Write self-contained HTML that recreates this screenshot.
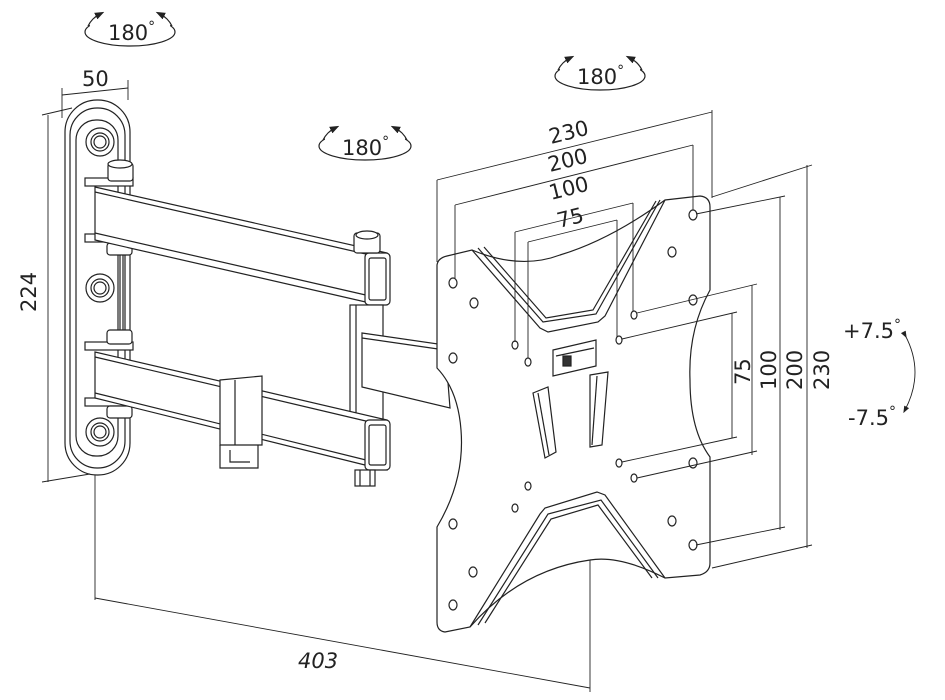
<!DOCTYPE html>
<html><head><meta charset="utf-8"><style>
html,body{margin:0;padding:0;background:#fff;}
svg{display:block;font-family:"DejaVu Sans","Liberation Sans",sans-serif;}
</style></head><body>
<svg width="945" height="700" viewBox="0 0 945 700" xmlns="http://www.w3.org/2000/svg">
<defs>
<marker id="ah" markerWidth="8" markerHeight="8" refX="4" refY="4" orient="auto"><path d="M0,1 L8,4 L0,7 Z" fill="#222"/></marker>
</defs>
<g fill="none" stroke="#222" stroke-width="1.2">
<!-- rotation labels -->
<g>
<ellipse cx="130" cy="32" rx="45" ry="14"/>
<ellipse cx="600" cy="76" rx="45" ry="14"/>
<ellipse cx="365" cy="146" rx="46" ry="14"/>
</g>
<g fill="#fff" stroke="none">
<rect x="90" y="14" width="80" height="14"/><rect x="560" y="58" width="80" height="14"/><rect x="325" y="128" width="80" height="14"/>
</g>
<path d="M88,26 Q92,18 100,14" marker-end="url(#ah)"/><path d="M172,26 Q168,18 160,14" marker-end="url(#ah)"/>
<path d="M558,70 Q562,62 570,58" marker-end="url(#ah)"/><path d="M642,70 Q638,62 630,58" marker-end="url(#ah)"/>
<path d="M323,140 Q327,132 335,128" marker-end="url(#ah)"/><path d="M407,140 Q403,132 395,128" marker-end="url(#ah)"/>

<!-- wall plate -->
<rect x="65" y="100" width="65" height="375" rx="32"/>
<rect x="70" y="108" width="55" height="360" rx="27"/>
<rect x="76" y="120" width="42" height="336" rx="20"/>
<circle cx="100" cy="142" r="14"/><circle cx="100" cy="142" r="9"/><circle cx="100" cy="142" r="6"/>
<circle cx="100" cy="288" r="14"/><circle cx="100" cy="288" r="9"/><circle cx="100" cy="288" r="6"/>
<circle cx="100" cy="432" r="14"/><circle cx="100" cy="432" r="9"/><circle cx="100" cy="432" r="6"/>
<!-- brackets -->
<rect x="85" y="178" width="48" height="8" fill="#fff"/>
<rect x="85" y="234" width="48" height="8" fill="#fff"/>
<rect x="85" y="342" width="48" height="8" fill="#fff"/>
<rect x="85" y="398" width="48" height="8" fill="#fff"/>
<line x1="120" y1="250" x2="120" y2="335"/><line x1="123" y1="250" x2="123" y2="335"/>
<!-- nuts -->
<rect x="108" y="163" width="25" height="18" rx="3" fill="#fff"/><ellipse cx="120" cy="164" rx="12" ry="4" fill="#fff"/>
<rect x="107" y="243" width="25" height="12" rx="3" fill="#fff"/>
<rect x="107" y="330" width="25" height="14" rx="3" fill="#fff"/>
<rect x="107" y="406" width="25" height="12" rx="3" fill="#fff"/>
<!-- upper arm -->
<path d="M95,187 L387,253 L387,303 L370,303 L95,240 Z" fill="#fff"/>
<line x1="95" y1="192" x2="370" y2="255"/><line x1="95" y1="233" x2="370" y2="296"/>
<rect x="365" y="253" width="25" height="52" rx="4" fill="#fff"/><rect x="369" y="258" width="17" height="42" rx="2"/>
<rect x="354" y="233" width="26" height="20" rx="3" fill="#fff"/><ellipse cx="367" cy="235" rx="11" ry="4" fill="#fff"/>
<!-- pivot column -->
<rect x="350" y="305" width="33" height="115" fill="#fff"/>
<line x1="356" y1="305" x2="356" y2="420"/>
<!-- forearm to plate -->
<path d="M362,333 L445,345 L450,408 L362,387 Z" fill="#fff"/>
<line x1="362" y1="338" x2="445" y2="350"/>
<!-- lower arm -->
<path d="M95,352 L387,420 L387,470 L373,467 L95,398 Z" fill="#fff"/>
<line x1="95" y1="357" x2="370" y2="422"/><line x1="95" y1="393" x2="370" y2="461"/>
<rect x="365" y="420" width="25" height="50" rx="4" fill="#fff"/><rect x="369" y="425" width="17" height="40" rx="2"/>
<rect x="355" y="470" width="20" height="16" fill="#fff"/><line x1="360" y1="470" x2="360" y2="486"/><line x1="370" y1="470" x2="370" y2="486"/>
<!-- clip -->
<path d="M220,380 L262,376 L262,445 L220,445 Z" fill="#fff"/>
<line x1="235" y1="380" x2="235" y2="445"/>
<path d="M220,445 L220,468 L258,468 L258,445"/><path d="M230,450 L230,462 L250,462"/>

<!-- VESA plate -->
<path d="M447,256 L472,250 Q520,270 560,255 Q610,240 665,200 L700,196 Q710,197 710,207 L710,290 Q688,330 690,380 Q690,430 710,457 L710,563 Q710,572 700,575 L665,578 Q620,555 590,560 Q520,570 470,627 L445,632 Q437,631 437,622 L437,527 Q465,480 461,430 Q458,390 437,368 L437,265 Q438,258 447,256 Z" fill="#fff"/>
<path d="M472,250 L540,328 L548,332 L598,322 L605,316 L665,200"/>
<path d="M478,248 L543,322 L596,314 L660,200"/>
<path d="M484,247 L546,318 L593,310 L656,201"/>
<path d="M665,578 L605,495 L597,492 L545,508 L540,514 L470,627"/>
<path d="M658,578 L601,500 L548,514 L478,625"/>
<path d="M652,578 L598,505 L551,519 L485,623"/>
<!-- slots -->
<path d="M533,393 L548,387 L556,452 L545,458 Z"/><line x1="538" y1="393" x2="549" y2="455"/>
<path d="M590,375 L608,372 L602,445 L590,447 Z"/><line x1="597" y1="376" x2="592" y2="445"/>
<!-- latch -->
<path d="M553,350 L596,340 L596,366 L553,376 Z"/><path d="M556,356 L594,348"/><rect x="563" y="356" width="8" height="10" fill="#333"/>
<!-- holes -->
<g>
<ellipse cx="453" cy="283" rx="4" ry="5"/><ellipse cx="474" cy="303" rx="4" ry="5"/><ellipse cx="453" cy="358" rx="4" ry="5"/>
<ellipse cx="515" cy="345" rx="3" ry="4"/><ellipse cx="528" cy="362" rx="3" ry="4"/><ellipse cx="634" cy="315" rx="3" ry="4"/><ellipse cx="619" cy="340" rx="3" ry="4"/>
<ellipse cx="693" cy="215" rx="4" ry="5"/><ellipse cx="672" cy="252" rx="4" ry="5"/><ellipse cx="693" cy="300" rx="4" ry="5"/>
<ellipse cx="619" cy="463" rx="3" ry="4"/><ellipse cx="634" cy="478" rx="3" ry="4"/><ellipse cx="693" cy="463" rx="4" ry="5"/>
<ellipse cx="672" cy="521" rx="4" ry="5"/><ellipse cx="693" cy="545" rx="4" ry="5"/><ellipse cx="528" cy="486" rx="3" ry="4"/><ellipse cx="515" cy="508" rx="3" ry="4"/>
<ellipse cx="453" cy="524" rx="4" ry="5"/><ellipse cx="473" cy="572" rx="4" ry="5"/><ellipse cx="453" cy="605" rx="4" ry="5"/>
</g>
</g>

<!-- dimension lines -->
<g fill="none" stroke="#222" stroke-width="0.9">
<line x1="62" y1="95" x2="128" y2="88"/><line x1="62" y1="88" x2="62" y2="118"/><line x1="128" y1="80" x2="128" y2="100"/>
<line x1="48" y1="115" x2="48" y2="482"/><line x1="42" y1="115" x2="72" y2="108"/><line x1="42" y1="482" x2="90" y2="474"/>
<line x1="95" y1="475" x2="95" y2="600"/><line x1="590" y1="560" x2="590" y2="692"/><line x1="95" y1="598" x2="590" y2="688"/>
<line x1="437" y1="180" x2="712" y2="112"/><line x1="437" y1="180" x2="437" y2="262"/><line x1="712" y1="110" x2="712" y2="198"/>
<line x1="455" y1="205" x2="693" y2="145"/><line x1="455" y1="205" x2="455" y2="278"/><line x1="693" y1="145" x2="693" y2="210"/>
<line x1="515" y1="232" x2="633" y2="203"/><line x1="515" y1="232" x2="515" y2="342"/><line x1="633" y1="203" x2="633" y2="311"/>
<line x1="528" y1="242" x2="617" y2="220"/><line x1="528" y1="242" x2="528" y2="358"/><line x1="617" y1="220" x2="617" y2="337"/>
<line x1="807" y1="165" x2="807" y2="548"/><line x1="712" y1="197" x2="812" y2="165"/><line x1="712" y1="568" x2="812" y2="545"/>
<line x1="780" y1="197" x2="780" y2="530"/><line x1="696" y1="214" x2="785" y2="196"/><line x1="696" y1="545" x2="785" y2="527"/>
<line x1="752" y1="285" x2="752" y2="455"/><line x1="637" y1="313" x2="757" y2="284"/><line x1="637" y1="478" x2="757" y2="451"/>
<line x1="732" y1="313" x2="732" y2="438"/><line x1="622" y1="339" x2="737" y2="312"/><line x1="622" y1="462" x2="737" y2="437"/>
<path d="M905,335 Q925,372 905,410" marker-start="url(#ah)" marker-end="url(#ah)"/>
</g>

<g fill="#222" font-size="21">
<text x="108" y="40">180<tspan font-size="14" dy="-9">°</tspan></text>
<text x="577" y="84">180<tspan font-size="14" dy="-9">°</tspan></text>
<text x="342" y="155">180<tspan font-size="14" dy="-9">°</tspan></text>
<text x="82" y="86">50</text>
<text transform="translate(36,312) rotate(-90)">224</text>
<text x="298" y="668" font-style="italic">403</text>
<text transform="translate(551,144) rotate(-14)">230</text>
<text transform="translate(550,172) rotate(-14)">200</text>
<text transform="translate(551,200) rotate(-14)">100</text>
<text transform="translate(559,228) rotate(-14)">75</text>
<text transform="translate(750,385) rotate(-90)">75</text>
<text transform="translate(776,390) rotate(-90)">100</text>
<text transform="translate(802,390) rotate(-90)">200</text>
<text transform="translate(829,390) rotate(-90)">230</text>
<text x="843" y="338">+7.5<tspan font-size="14" dy="-9">°</tspan></text>
<text x="848" y="425">-7.5<tspan font-size="14" dy="-9">°</tspan></text>
</g>
</svg>
</body></html>
